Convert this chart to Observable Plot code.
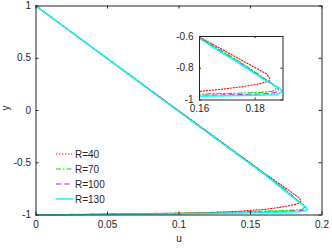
<!DOCTYPE html>
<html><head><meta charset="utf-8">
<script src="https://cdn.jsdelivr.net/npm/d3@7"></script>
<script src="https://cdn.jsdelivr.net/npm/@observablehq/plot@0.6"></script>
<style>
html,body{margin:0;padding:0;background:#fff;}
#wrap{position:relative;width:332px;height:249px;font-family:"Liberation Sans",Arial,sans-serif;}
#wrap svg{position:absolute;overflow:visible;}
</style></head><body><div id="wrap"></div>
<script>
// ---- data ----
const seriesNames = ["R=40", "R=70", "R=100", "R=130"];
const seriesColors = ["#ff0000", "#00e000", "#ff00ff", "#00ffff"];
const seriesDash = ["1.3,1.7", "5,2,1.5,2", "5,3.5", null];
const seriesWidth = [1.1, 1.1, 1.1, 1.5];

const u40  = [0, 0.05, 0.1, 0.16, 0.175, 0.1843, 0.1852, 0.185, 0.182, 0.175, 0.168, 0.16, 0.14, 0.12, 0.1, 0.05, 0.02, 0];
const y40  = [1, 0.497, -0.004, -0.603, -0.748, -0.838, -0.865, -0.88, -0.897, -0.917, -0.932, -0.946, -0.966, -0.976, -0.982, -0.99, -0.995, -1];
const u70  = [0, 0.05, 0.1, 0.16, 0.175, 0.183, 0.1868, 0.1875, 0.1862, 0.182, 0.175, 0.16, 0.14, 0.12, 0.1, 0.05, 0];
const y70  = [1, 0.496, -0.007, -0.606, -0.765, -0.86, -0.905, -0.93, -0.945, -0.952, -0.957, -0.963, -0.971, -0.978, -0.983, -0.992, -1];
const u100 = [0, 0.05, 0.1, 0.16, 0.175, 0.184, 0.1878, 0.1885, 0.1872, 0.183, 0.175, 0.16, 0.14, 0.12, 0.1, 0.05, 0];
const y100 = [1, 0.495, -0.01, -0.61, -0.772, -0.875, -0.915, -0.94, -0.953, -0.962, -0.966, -0.971, -0.978, -0.983, -0.987, -0.994, -1];
const u130 = [0, 0.05, 0.1, 0.16, 0.175, 0.185, 0.1888, 0.1897, 0.1885, 0.184, 0.175, 0.16, 0.14, 0.12, 0.1, 0.05, 0];
const y130 = [1, 0.494, -0.012, -0.613, -0.778, -0.89, -0.925, -0.946, -0.96, -0.968, -0.972, -0.976, -0.982, -0.986, -0.99, -0.996, -1];

const xTicks = [0, 0.05, 0.1, 0.15, 0.2];
const yTicks = [-1, -0.5, 0, 0.5, 1];
const insetXTicks = [0.16, 0.18];
const insetYTicks = [-1, -0.8, -0.6];
const xLabel = "u";
const yLabel = "y";

// ---- build ----
const us = [u40, u70, u100, u130];
const ys = [y40, y70, y100, y130];
const rows = seriesNames.map((name, i) => us[i].map((u, j) => ({series: name, u, y: ys[i][j]})));

const axisColor = "#262626";
const font = "'Liberation Sans', Arial, sans-serif";
const wrap = document.getElementById("wrap");

function lineMarks(clip) {
  return rows.map((data, i) => Plot.line(data, {
    x: "u", y: "y", stroke: seriesColors[i], strokeWidth: seriesWidth[i],
    strokeDasharray: seriesDash[i] || undefined, clip
  }));
}

// main plot
const W = 332, H = 249;
const mL = 35.5, mR = 10.5, mT = 5.5, mB = 34.5;
const iw = W - mL - mR, ih = H - mT - mB;
const TL = 3;
const main = Plot.plot({
  width: W, height: H, marginLeft: mL, marginRight: mR, marginTop: mT, marginBottom: mB,
  style: {background: "transparent", fontSize: "10px", fontFamily: font, color: axisColor},
  x: {domain: [0, 0.2]},
  y: {domain: [-1, 1]},
  marks: [
    ...lineMarks(false),
    Plot.frame({stroke: axisColor, strokeWidth: 1}),
    Plot.tickX(xTicks, {x: d => d, insetTop: ih - TL, stroke: axisColor}),
    Plot.tickX(xTicks, {x: d => d, insetBottom: ih - TL, stroke: axisColor}),
    Plot.tickY(yTicks, {y: d => d, insetRight: iw - TL, stroke: axisColor}),
    Plot.tickY(yTicks, {y: d => d, insetLeft: iw - TL, stroke: axisColor}),
    Plot.axisX(xTicks, {tickSize: 0, tickPadding: 6, tickFormat: d => String(d), label: null}),
    Plot.axisY(yTicks, {tickSize: 0, tickPadding: 5, tickFormat: d => String(d), label: null}),
    Plot.text([xLabel], {text: d => d, frameAnchor: "bottom", dy: 27, fill: axisColor}),
    Plot.text([yLabel], {text: d => d, frameAnchor: "left", dx: -30, rotate: -90, fill: axisColor})
  ]
});
main.style.left = "0px"; main.style.top = "0px";
wrap.appendChild(main);

// inset
const bx0 = 199, bx1 = 282.5, by0 = 36, by1 = 99.5;
const imL = 30, imR = 6, imT = 5, imB = 18;
const iiw = bx1 - bx0, iih = by1 - by0;
const inset = Plot.plot({
  width: iiw + imL + imR, height: iih + imT + imB,
  marginLeft: imL, marginRight: imR, marginTop: imT, marginBottom: imB,
  style: {background: "transparent", fontSize: "10px", fontFamily: font, color: axisColor},
  x: {domain: [0.16, 0.19]},
  y: {domain: [-1, -0.6]},
  marks: [
    Plot.frame({fill: "white", stroke: null}),
    ...lineMarks(true),
    Plot.frame({stroke: axisColor, strokeWidth: 1}),
    Plot.tickX(insetXTicks, {x: d => d, insetTop: iih - 2, stroke: axisColor}),
    Plot.tickX(insetXTicks, {x: d => d, insetBottom: iih - 2, stroke: axisColor}),
    Plot.tickY(insetYTicks, {y: d => d, insetRight: iiw - 2, stroke: axisColor}),
    Plot.tickY(insetYTicks, {y: d => d, insetLeft: iiw - 2, stroke: axisColor}),
    Plot.axisX(insetXTicks, {tickSize: 0, tickPadding: 5, tickFormat: d => String(d), label: null}),
    Plot.axisY(insetYTicks, {tickSize: 0, tickPadding: 6, tickFormat: d => String(d), label: null})
  ]
});
inset.style.left = (bx0 - imL) + "px"; inset.style.top = (by0 - imT) + "px";
wrap.appendChild(inset);

// legend
const legX = 56, legLen = 17, legY0 = 154, legDy = 15;
const leg = d3.create("svg").attr("width", 332).attr("height", 249)
  .style("left", "0px").style("top", "0px").style("position", "absolute");
seriesNames.forEach((name, i) => {
  const y = legY0 + i * legDy;
  leg.append("line").attr("x1", legX).attr("x2", legX + legLen).attr("y1", y).attr("y2", y)
    .attr("stroke", seriesColors[i]).attr("stroke-width", seriesWidth[i])
    .attr("stroke-dasharray", seriesDash[i]);
  leg.append("text").attr("x", legX + legLen + 2).attr("y", y).attr("dy", "0.35em")
    .attr("font-size", 10).attr("font-family", font).attr("fill", axisColor).text(name);
});
wrap.appendChild(leg.node());
</script></body></html>
